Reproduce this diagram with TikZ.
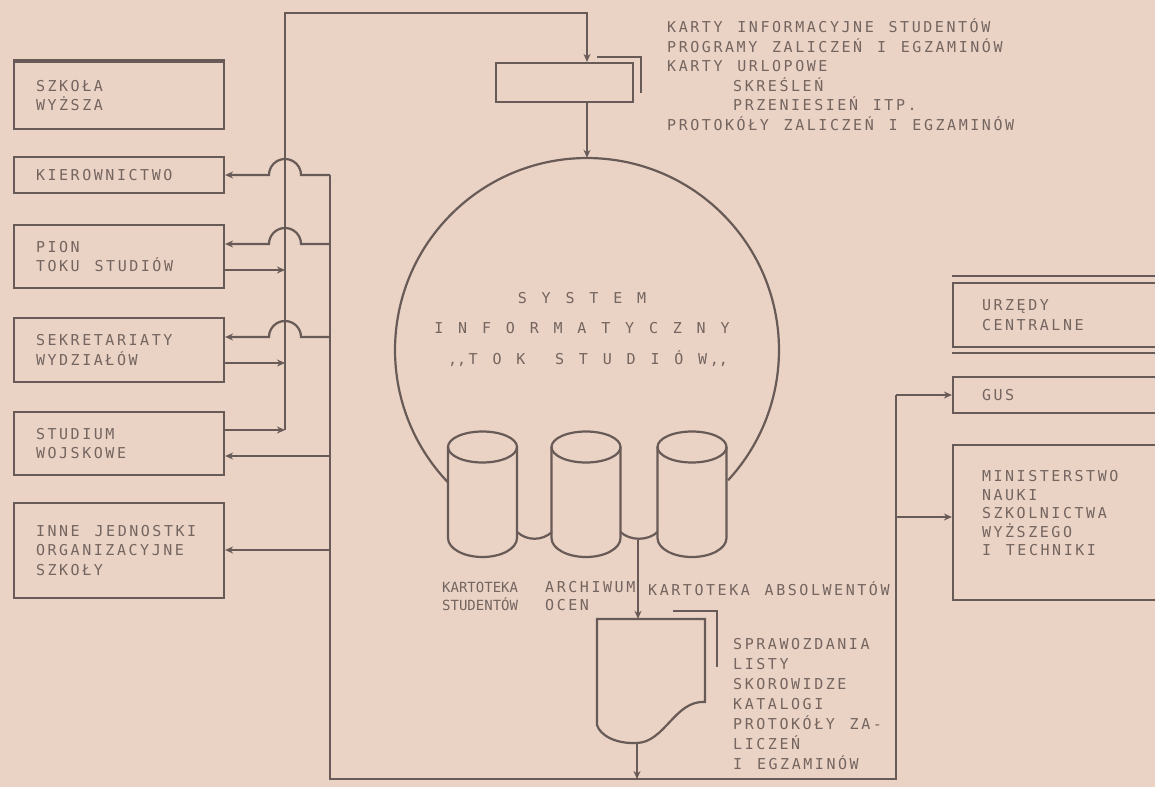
\documentclass[tikz,border=0pt]{standalone}
\usepackage{fontspec}
\usetikzlibrary{arrows.meta, positioning, calc}
\newfontfamily\typewr[LetterSpace=17, WordSpace=1.28]{DejaVu Sans Mono}
\definecolor{paperbg}{RGB}{234,210,196}
\definecolor{inkline}{RGB}{104,90,86}
\definecolor{inktext}{RGB}{116,101,96}

\begin{document}
\begin{tikzpicture}[x=1pt, y=-1pt,
  txt/.style     = {font=\typewr\fontsize{15}{#1}\selectfont, text=inktext, inner sep=0pt},
  txt/.default   = 19.5,
  line/.style    = {draw=inkline, line width=2.2pt},
  flow/.style    = {line, -{Stealth[length=8pt, width=7pt]}},
  unit/.style    = {line, txt, minimum width=210pt, text width=166pt, align=flush left},
  office/.style  = {line, txt, minimum width=222pt, text width=164pt, align=flush left},
  hopleft/.style = {insert path={-- ++(-29,0) arc[start angle=0, end angle=-180, radius=16]}}
]
\useasboundingbox (0,0) rectangle (1155,787);
\clip (0,0) rectangle (1155,787);
\fill[paperbg] (0,0) rectangle (1155,787);

% Units of the school
\node[unit, minimum height=67pt] (szkola) at (119,95.5)  {SZKOŁA\\WYŻSZA};
\node[unit, minimum height=36pt] (kier)   at (119,175)   {KIEROWNICTWO};
\node[unit, minimum height=63pt] (pion)   at (119,256.5) {PION\\TOKU STUDIÓW};
\node[unit, minimum height=64pt] (sekr)   at (119,350)   {SEKRETARIATY\\WYDZIAŁÓW};
\node[unit, minimum height=63pt] (stud)   at (119,443.5) {STUDIUM\\WOJSKOWE};
\node[unit, minimum height=95pt] (inne)   at (119,550.5) {INNE JEDNOSTKI\\ORGANIZACYJNE\\SZKOŁY};
\draw[line, line width=4.5pt] (szkola.north west) -- (szkola.north east);

% Central offices
\node[office, minimum height=64pt]  (urzedy) at (1064,315)   {URZĘDY\\CENTRALNE};
\node[office, minimum height=36pt]  (gus)    at (1064,395)   {GUS};
\node[office, minimum height=155pt, txt=18.5] (minist) at (1064,522.5)
  {MINISTERSTWO\\NAUKI\\SZKOLNICTWA\\WYŻSZEGO\\I TECHNIKI\\~};
\draw[line] ([yshift=6pt]urzedy.north west) -- ++(230,0);
\draw[line] ([yshift=-5pt]urzedy.south west) -- ++(230,0);

% Input documents
\node[line, minimum width=137pt, minimum height=39pt, inner sep=0pt] (input) at (564.5,82.5) {};
\draw[line] (597,57) -- (641,57) -- (641,93);
\node[txt, align=left, anchor=north west] (intxt) at (667,18.4)
  {KARTY INFORMACYJNE STUDENTÓW\\PROGRAMY ZALICZEŃ I EGZAMINÓW\\KARTY URLOPOWE\\
   \hspace*{66pt}SKREŚLEŃ\\\hspace*{66pt}PRZENIESIEŃ ITP.\\PROTOKÓŁY ZALICZEŃ I EGZAMINÓW};

% System
\node[circle, minimum size=384pt, inner sep=0pt] (sys) at (587,350) {};
\draw[line] (sys.center) ++(136.3:192) arc[start angle=136.3, end angle=402.7, radius=192];
\node[txt=30.5, align=center] (systxt) at (582,329)
  {S Y S T E M\\I N F O R M A T Y C Z N Y\\\hspace*{12pt},\kern0pt,T O K\ \ S T U D I Ó W,\kern0pt,};

% Files
\foreach \cx/\nm in {482.5/cylS, 586/cylO, 692/cylA} {
  \draw[line] (\cx-34.5,447) -- (\cx-34.5,538)
    arc[start angle=180, end angle=0, x radius=34.5, y radius=19] -- (\cx+34.5,447);
  \draw[line] (\cx,447) ellipse[x radius=34.5, y radius=15.5];
  \coordinate (\nm) at (\cx,538);
}
\draw[line] (517,532) .. controls (527,541) and (542,541) .. (552,532);
\draw[line] (620.5,532) .. controls (630,541) and (648,541) .. (657.5,532);
\coordinate (join) at (638,539.5);
\node[txt=18, font=\typewr\fontsize{14}{18}\selectfont\addfontfeature{LetterSpace=0},
      align=left, anchor=north west] (lblS) at (442,582) {KARTOTEKA\\STUDENTÓW};
\node[txt=18, align=left, anchor=north west] (lblO) at (545,581.5) {ARCHIWUM\\OCEN};
\node[txt=18, align=left, anchor=north west] (lblA) at (648,581.5) {KARTOTEKA ABSOLWENTÓW};

% Output documents
\node[minimum width=108pt, minimum height=124pt, inner sep=0pt] (doc) at (651,681) {};
\draw[line] (597,619) -- (705,619) -- (705,702)
  .. controls (675,700) and (665,742) .. (637,743)
  .. controls (615,744) and (600,735) .. (597,725) -- cycle;
\draw[line] (673,611) -- (717,611) -- (717,667);
\coordinate (docTip) at (637,743);
\node[txt=20, align=left, anchor=north west] (outtxt) at (733,638.5)
  {SPRAWOZDANIA\\LISTY\\SKOROWIDZE\\KATALOGI\\PROTOKÓŁY ZA-\\LICZEŃ\\I EGZAMINÓW};

% Bus points
\coordinate (aTop)  at (285,13);
\coordinate (inTop) at (587,13);
\coordinate (a2)    at (285,270);
\coordinate (a3)    at (285,363);
\coordinate (a4)    at (285,430);
\coordinate (b1)    at (330,175);
\coordinate (b2)    at (330,244);
\coordinate (b3)    at (330,337);
\coordinate (b4)    at (330,456);
\coordinate (b5)    at (330,550);
\coordinate (bBot)  at (330,779);
\coordinate (rBot)  at (896,779);
\coordinate (rGus)  at (896,395);
\coordinate (rMin)  at (896,517);

% Data in
\draw[flow] (pion.east |- a2) -- (a2);
\draw[flow] (sekr.east |- a3) -- (a3);
\draw[flow] (stud.east |- a4) -- (a4);
\draw[flow] (a4) -- (aTop) -- (inTop) -- (inTop |- input.north);
\draw[flow] (input.south -| sys.north) -- (sys.north);
\draw[flow] (join) -- (join |- doc.north);

% Data out
\draw[flow] (docTip) -- (docTip |- bBot);
\draw[line] (b1) -- (bBot) -- (rBot) -- (rGus);
\draw[flow] (b1) [hopleft] -- (kier.east |- b1);
\draw[flow] (b2) [hopleft] -- (pion.east |- b2);
\draw[flow] (b3) [hopleft] -- (sekr.east |- b3);
\draw[flow] (b4) -- (stud.east |- b4);
\draw[flow] (b5) -- (inne.east |- b5);
\draw[flow] (rGus) -- (gus.west |- rGus);
\draw[flow] (rMin) -- (minist.west |- rMin);

\end{tikzpicture}
\end{document}
